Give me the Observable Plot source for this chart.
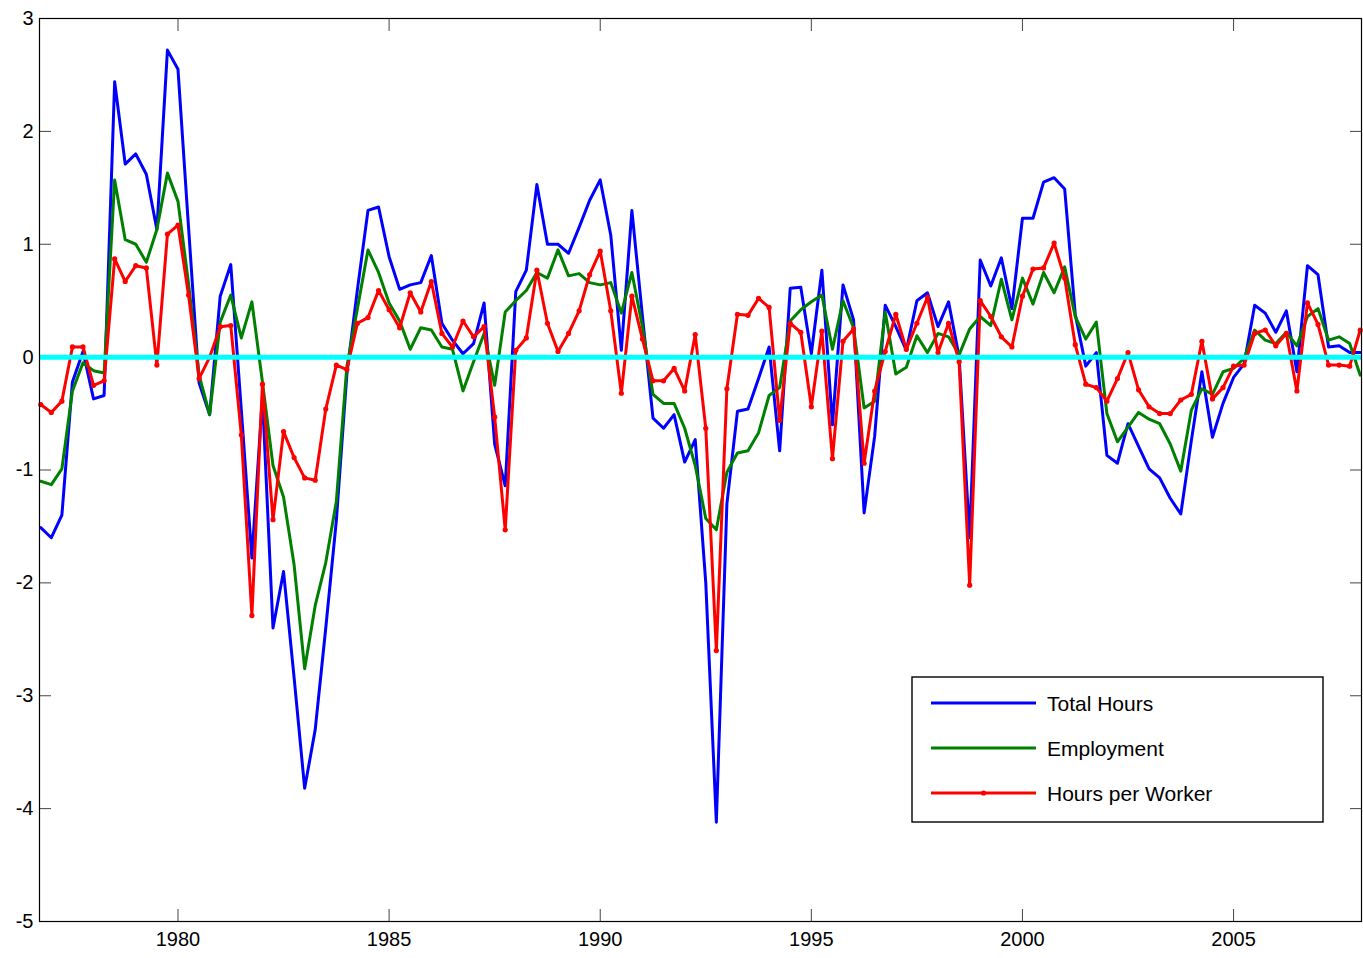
<!DOCTYPE html>
<html><head><meta charset="utf-8">
<script src="https://cdn.jsdelivr.net/npm/d3@7"></script>
<script src="https://cdn.jsdelivr.net/npm/@observablehq/plot@0.6"></script>
<style>
body{margin:0;background:#fff;}
#wrap{position:relative;width:1363px;height:958px;overflow:hidden;}
#legend{position:absolute;left:911px;top:676px;}
</style>
</head><body><div id="wrap"></div>
<script>
const startYear = 1976.75;   // first quarter shown
const quarterStep = 0.25;

const totalHours = [
 -1.51,-1.60,-1.40,-0.22,0.05,-0.37,-0.34,2.44,1.71,1.80,1.62,1.13,2.72,2.55,1.15,-0.23,-0.51,0.54,0.82,-0.47,
 -1.78,-0.35,-2.40,-1.90,-2.84,-3.82,-3.30,-2.40,-1.45,-0.15,0.60,1.30,1.33,0.89,0.60,0.64,0.66,0.90,0.30,0.15,
 0.03,0.12,0.48,-0.77,-1.14,0.58,0.77,1.53,1.00,1.00,0.92,1.15,1.39,1.57,1.08,0.06,1.30,0.36,-0.54,-0.63,
 -0.51,-0.93,-0.73,-2.00,-4.12,-1.30,-0.48,-0.46,-0.19,0.09,-0.83,0.61,0.62,0.03,0.77,-0.60,0.64,0.33,-1.38,-0.70,
 0.46,0.27,0.06,0.50,0.57,0.27,0.49,0.00,-1.60,0.86,0.63,0.88,0.43,1.23,1.23,1.55,1.59,1.49,0.38,-0.08,
 0.04,-0.87,-0.94,-0.59,-0.79,-0.99,-1.07,-1.25,-1.39,-0.74,-0.13,-0.71,-0.41,-0.18,-0.06,0.46,0.39,0.22,0.41,-0.13,
 0.81,0.73,0.09,0.10,0.04,0.04
];
const employment = [
 -1.10,-1.13,-0.99,-0.30,-0.05,-0.12,-0.14,1.57,1.04,1.00,0.84,1.13,1.63,1.38,0.65,-0.16,-0.51,0.31,0.55,0.17,
 0.49,-0.22,-0.96,-1.24,-1.84,-2.76,-2.20,-1.82,-1.28,-0.08,0.43,0.95,0.75,0.48,0.32,0.07,0.26,0.24,0.09,0.07,
 -0.30,-0.04,0.21,-0.25,0.40,0.50,0.59,0.75,0.70,0.95,0.72,0.74,0.66,0.64,0.66,0.39,0.75,0.27,-0.33,-0.41,
 -0.41,-0.63,-0.96,-1.43,-1.53,-1.02,-0.85,-0.83,-0.67,-0.34,-0.27,0.32,0.42,0.49,0.55,0.07,0.50,0.26,-0.45,-0.39,
 0.40,-0.15,-0.09,0.19,0.04,0.21,0.18,0.02,0.25,0.36,0.28,0.69,0.33,0.70,0.47,0.75,0.57,0.80,0.36,0.16,
 0.31,-0.50,-0.75,-0.62,-0.49,-0.55,-0.59,-0.77,-1.01,-0.47,-0.28,-0.33,-0.13,-0.10,-0.01,0.24,0.15,0.12,0.22,0.10,
 0.36,0.43,0.15,0.18,0.12,-0.16
];
const hoursPerWorker = [
 -0.42,-0.49,-0.39,0.09,0.09,-0.25,-0.21,0.87,0.67,0.81,0.79,-0.07,1.09,1.17,0.55,-0.19,0.00,0.27,0.28,-0.69,
 -2.29,-0.24,-1.44,-0.66,-0.89,-1.07,-1.09,-0.46,-0.07,-0.11,0.30,0.35,0.59,0.42,0.26,0.57,0.40,0.67,0.21,0.09,
 0.32,0.18,0.27,-0.53,-1.53,0.06,0.17,0.77,0.30,0.05,0.21,0.41,0.73,0.94,0.41,-0.32,0.54,0.16,-0.21,-0.21,
 -0.10,-0.30,0.20,-0.63,-2.60,-0.28,0.38,0.37,0.52,0.44,-0.56,0.30,0.22,-0.44,0.23,-0.90,0.14,0.25,-0.94,-0.30,
 0.05,0.38,0.07,0.30,0.53,0.04,0.30,-0.04,-2.02,0.50,0.36,0.18,0.09,0.54,0.78,0.79,1.01,0.70,0.11,-0.24,
 -0.27,-0.39,-0.19,0.04,-0.29,-0.44,-0.50,-0.50,-0.38,-0.33,0.14,-0.37,-0.27,-0.08,-0.07,0.21,0.24,0.10,0.21,-0.30,
 0.48,0.29,-0.07,-0.07,-0.08,0.24
];

const seriesNames = ["Total Hours", "Employment", "Hours per Worker"];
const seriesColors = ["#0000ff", "#008000", "#ff0000"];
const xTicks = [1980, 1985, 1990, 1995, 2000, 2005];
const yTicks = [-5, -4, -3, -2, -1, 0, 1, 2, 3];

const seriesValues = [totalHours, employment, hoursPerWorker];
const rows = seriesValues.map((vals, s) =>
  vals.map((v, i) => ({series: seriesNames[s], date: startYear + i * quarterStep, value: v})));

const font = '"Liberation Sans", Arial, Helvetica, sans-serif';

const chart = Plot.plot({
  width: 1363,
  height: 958,
  marginLeft: 39,
  marginRight: 2,
  marginTop: 18,
  marginBottom: 37,
  style: {fontFamily: font, fontSize: "20px", background: "#fff", color: "#000", overflow: "visible"},
  x: {domain: [1976.72, 2008.03], ticks: xTicks},
  y: {domain: [-5, 3], ticks: yTicks},
  marks: [
    Plot.axisX({ticks: xTicks, tickSize: -12, tickPadding: 22, tickFormat: d => String(d), stroke: "#444", label: null, fontSize: 20}),
    Plot.axisX({anchor: "top", ticks: xTicks, tickSize: -12, tickFormat: () => "", stroke: "#444", label: null}),
    Plot.axisY({ticks: yTicks, tickSize: -12, tickPadding: 18, tickFormat: d => String(d), stroke: "#444", label: null, fontSize: 20}),
    Plot.axisY({anchor: "right", ticks: yTicks, tickSize: -12, tickFormat: () => "", stroke: "#444", label: null}),
    Plot.line(rows[0], {x: "date", y: "value", stroke: seriesColors[0], strokeWidth: 3}),
    Plot.line(rows[1], {x: "date", y: "value", stroke: seriesColors[1], strokeWidth: 3}),
    Plot.line(rows[2], {x: "date", y: "value", stroke: seriesColors[2], strokeWidth: 3}),
    Plot.dot(rows[2], {x: "date", y: "value", fill: seriesColors[2], r: 2.6, stroke: "none"}),
    Plot.ruleY([0], {stroke: "#00ffff", strokeWidth: 5}),
    Plot.frame({stroke: "#000", strokeWidth: 1.2})
  ]
});

const wrap = document.getElementById("wrap");
wrap.appendChild(chart);

// legend box overlaid on the plot area
const lw = 412, lh = 146;
const leg = d3.create("svg").attr("id", "legend").attr("width", lw + 2).attr("height", lh + 2)
  .style("font-family", font);
leg.append("rect").attr("x", 1).attr("y", 1).attr("width", lw - 1).attr("height", lh - 1)
  .attr("fill", "#fff").attr("stroke", "#000").attr("stroke-width", 1.4);
seriesNames.forEach((name, i) => {
  const cy = 27 + i * 45;
  const g = leg.append("g");
  g.append("line").attr("x1", 20).attr("x2", 125).attr("y1", cy).attr("y2", cy)
    .attr("stroke", seriesColors[i]).attr("stroke-width", 3);
  if (i === 2) g.append("circle").attr("cx", 72.5).attr("cy", cy).attr("r", 2.6).attr("fill", seriesColors[i]);
  g.append("text").attr("x", 136).attr("y", cy + 8).attr("font-size", 21).attr("fill", "#000").text(name);
});
wrap.appendChild(leg.node());
</script>
</body></html>
